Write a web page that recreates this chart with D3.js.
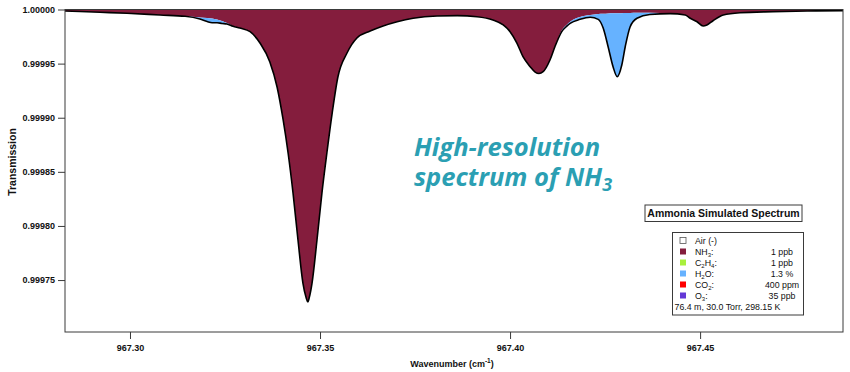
<!DOCTYPE html>
<html>
<head>
<meta charset="utf-8">
<script src="https://cdn.jsdelivr.net/npm/d3@7/dist/d3.min.js"></script>
<style>
  html, body { margin: 0; padding: 0; background: #ffffff; }
  svg { display: block; }
</style>
</head>
<body>
<svg id="chart" width="850" height="372"></svg>
<script>
// ---------------- DATA ----------------
// wavenumber grid (cm^-1)
const wavenumber = [967.2829, 967.2921, 967.2992, 967.3079, 967.3145, 967.3184, 967.3203, 967.3216, 967.3229, 967.3242,
  967.3255, 967.3271, 967.3289, 967.3316, 967.3342, 967.3368, 967.3387, 967.3403, 967.3416, 967.3429,
  967.3442, 967.3455, 967.3463, 967.3468, 967.3472, 967.3479, 967.3492, 967.3505, 967.3518, 967.3532,
  967.3547, 967.3571, 967.3597, 967.3632, 967.3666, 967.3703, 967.3745, 967.3808, 967.3861, 967.3913,
  967.3955, 967.3982, 967.4000, 967.4018, 967.4034, 967.4053, 967.4066, 967.4076, 967.4087, 967.4105,
  967.4118, 967.4136, 967.4150, 967.4158, 967.4184, 967.4211, 967.4232, 967.4245, 967.4258, 967.4271,
  967.4282, 967.4294, 967.4303, 967.4316, 967.4334, 967.4368, 967.4421, 967.4461, 967.4474, 967.4492,
  967.4508, 967.4518, 967.4534, 967.4561, 967.4605, 967.4692, 967.4782, 967.4876];

// NH3 transmission
const nh3Transmission = [0.9999986, 0.9999974, 0.9999965, 0.9999949, 0.9999937, 0.9999926, 0.9999921, 0.9999917, 0.9999908, 0.9999894,
  0.9999875, 0.9999848, 0.9999829, 0.9999795, 0.9999690, 0.9999515, 0.9999284, 0.9998979, 0.9998674, 0.9998304,
  0.9997870, 0.9997472, 0.9997343, 0.9997299, 0.9997343, 0.9997472, 0.9997870, 0.9998304, 0.9998674, 0.9999043,
  0.9999376, 0.9999598, 0.9999737, 0.9999801, 0.9999848, 0.9999887, 0.9999919, 0.9999940, 0.9999943, 0.9999933,
  0.9999903, 0.9999857, 0.9999795, 0.9999690, 0.9999564, 0.9999471, 0.9999422, 0.9999409, 0.9999425, 0.9999533,
  0.9999656, 0.9999806, 0.9999861, 0.9999887, 0.9999931, 0.9999949, 0.9999958, 0.9999960, 0.9999963, 0.9999965,
  0.9999965, 0.9999966, 0.9999967, 0.9999968, 0.9999970, 0.9999970, 0.9999965, 0.9999949, 0.9999919, 0.9999887,
  0.9999848, 0.9999857, 0.9999896, 0.9999949, 0.9999970, 0.9999980, 0.9999986, 0.9999989];

// H2O transmission
const h2oTransmission = [1.0000000, 1.0000000, 1.0000000, 1.0000000, 1.0000000, 0.9999986, 0.9999968, 0.9999961, 0.9999970, 0.9999977,
  0.9999991, 0.9999997, 1.0000000, 1.0000000, 1.0000000, 1.0000000, 1.0000000, 1.0000000, 1.0000000, 1.0000000,
  1.0000000, 1.0000000, 1.0000000, 1.0000000, 1.0000000, 1.0000000, 1.0000000, 1.0000000, 1.0000000, 1.0000000,
  1.0000000, 1.0000000, 1.0000000, 1.0000000, 1.0000000, 1.0000000, 1.0000000, 1.0000000, 1.0000000, 1.0000000,
  1.0000000, 1.0000000, 1.0000000, 1.0000000, 1.0000000, 1.0000000, 1.0000000, 1.0000000, 1.0000000, 1.0000000,
  1.0000000, 0.9999990, 0.9999987, 0.9999985, 0.9999978, 0.9999979, 0.9999951, 0.9999869, 0.9999693, 0.9999506,
  0.9999414, 0.9999521, 0.9999689, 0.9999873, 0.9999949, 0.9999984, 0.9999997, 1.0000000, 1.0000000, 1.0000000,
  1.0000000, 1.0000000, 1.0000000, 1.0000000, 1.0000000, 1.0000000, 1.0000000, 1.0000000];

const xTicks = [967.30, 967.35, 967.40, 967.45];
const yTicks = [1.00000, 0.99995, 0.99990, 0.99985, 0.99980, 0.99975];
const xDomain = [967.2829, 967.4876];
const yDomain = [0.999702, 1.0];

const legendTitle = "Ammonia Simulated Spectrum";
const legendNames = [["Air (-)"], ["NH", "3", ":"], ["C", "2", "H", "4", ":"], ["H", "2", "O:"], ["CO", "2", ":"], ["O", "3", ":"]];
const legendValues = ["", "1 ppb", "1 ppb", "1.3 %", "400 ppm", "35 ppb"];
const legendColors = ["#ffffff", "#841d3d", "#a9f03c", "#66b2ff", "#ff0000", "#6338d6"];
const legendFooter = "76.4 m, 30.0 Torr, 298.15 K";

// ---------------- DRAW ----------------
(function () {
const svg = d3.select("#chart");
const pL = 65, pR = 843, pT = 9.5, pB = 332;
const font = "'Liberation Sans', Arial, sans-serif";

const x = d3.scaleLinear().domain(xDomain).range([pL, pR]);
const y = d3.scaleLinear().domain(yDomain).range([pB, pT]);

const data = wavenumber.map((w, i) => ({
  w: w,
  nh3: nh3Transmission[i],
  total: nh3Transmission[i] * h2oTransmission[i]
}));

svg.append("defs").append("clipPath").attr("id", "clip")
  .append("rect").attr("x", pL).attr("y", pT).attr("width", pR - pL).attr("height", pB - pT);

const g = svg.append("g").attr("clip-path", "url(#clip)");

// NH3 area (from 1 down to NH3 transmission)
g.append("path").datum(data)
  .attr("fill", legendColors[1])
  .attr("d", d3.area().x(d => x(d.w)).y0(y(1.0)).y1(d => y(d.nh3)).curve(d3.curveMonotoneX));

// H2O area stacked under NH3
g.append("path").datum(data)
  .attr("fill", legendColors[3])
  .attr("d", d3.area().x(d => x(d.w)).y0(d => y(d.nh3)).y1(d => y(d.total)).curve(d3.curveMonotoneX));

// total transmission line
g.append("path").datum(data)
  .attr("fill", "none")
  .attr("stroke", "#000")
  .attr("stroke-width", 1.6)
  .attr("d", d3.line().x(d => x(d.w)).y(d => y(d.total)).curve(d3.curveMonotoneX));

// frame
svg.append("rect").attr("x", pL).attr("y", pT).attr("width", pR - pL).attr("height", pB - pT)
  .attr("fill", "none").attr("stroke", "#3a3a3a").attr("stroke-width", 1);

// axes
const yAxis = svg.append("g").attr("transform", `translate(${pL},0)`)
  .call(d3.axisLeft(y).tickValues(yTicks).tickFormat(d3.format(".5f")).tickSize(7).tickPadding(3));
const xAxis = svg.append("g").attr("transform", `translate(0,${pB})`)
  .call(d3.axisBottom(x).tickValues(xTicks).tickFormat(d3.format(".2f")).tickSize(7).tickPadding(6));
[yAxis, xAxis].forEach(a => {
  a.select(".domain").remove();
  a.selectAll(".tick line").attr("stroke", "#3a3a3a");
  a.selectAll(".tick text").attr("fill", "#111").attr("font-family", font).attr("font-weight", "bold").attr("font-size", "9px");
});

// axis titles
svg.append("text")
  .attr("transform", `translate(16,162) rotate(-90)`)
  .attr("text-anchor", "middle")
  .attr("font-family", font).attr("font-weight", "bold").attr("font-size", "10.5px").attr("fill", "#111")
  .text("Transmission");

const xt = svg.append("text")
  .attr("x", 452).attr("y", 367)
  .attr("text-anchor", "middle")
  .attr("font-family", font).attr("font-weight", "bold").attr("font-size", "9px").attr("fill", "#111");
xt.append("tspan").text("Wavenumber (cm");
xt.append("tspan").attr("dy", -4).attr("font-size", "6.5px").text("-1");
xt.append("tspan").attr("dy", 4).text(")");

// annotation
const ann = svg.append("text")
  .attr("font-family", "'Open Sans', sans-serif").attr("font-style", "italic").attr("font-weight", "bold")
  .attr("font-size", "25.5px").attr("fill", "#2b9fb3");
ann.append("tspan").attr("x", 414).attr("y", 156).text("High-resolution");
ann.append("tspan").attr("x", 414).attr("y", 186).text("spectrum of NH");
ann.append("tspan").attr("dy", 5).attr("font-size", "18px").text("3");

// legend title box
const lt = svg.append("g");
lt.append("rect").attr("x", 645).attr("y", 205).attr("width", 157).attr("height", 16.5)
  .attr("fill", "#fff").attr("stroke", "#3a3a3a").attr("stroke-width", 1);
lt.append("text").attr("x", 723.5).attr("y", 217)
  .attr("text-anchor", "middle")
  .attr("font-family", font).attr("font-weight", "bold").attr("font-size", "10.5px").attr("fill", "#111")
  .text(legendTitle);

// legend box
const lg = svg.append("g");
lg.append("rect").attr("x", 672.5).attr("y", 232.5).attr("width", 131).attr("height", 82.5)
  .attr("fill", "#fff").attr("stroke", "#3a3a3a").attr("stroke-width", 1);
const rowY = d3.scaleLinear().domain([0, 6]).range([240.5, 306.5]);
legendNames.forEach((parts, i) => {
  const cy = rowY(i);
  lg.append("rect").attr("x", 680).attr("y", cy - 3).attr("width", 6).attr("height", 6)
    .attr("fill", legendColors[i])
    .attr("stroke", i === 0 ? "#555" : "none").attr("stroke-width", 0.8);
  const t = lg.append("text").attr("x", 695).attr("y", cy + 3)
    .attr("font-family", font).attr("font-size", "8.8px").attr("fill", "#111");
  parts.forEach((p, j) => {
    const isSub = parts.length > 1 && j % 2 === 1;
    const tp = t.append("tspan").text(p);
    if (isSub) tp.attr("font-size", "6px").attr("dy", 2);
    else if (j > 0) tp.attr("dy", -2);
  });
  if (legendValues[i]) {
    lg.append("text").attr("x", 782).attr("y", cy + 3)
      .attr("text-anchor", "middle")
      .attr("font-family", font).attr("font-size", "8.8px").attr("fill", "#111")
      .text(legendValues[i]);
  }
});
lg.append("text").attr("x", 674.5).attr("y", rowY(6) + 3)
  .attr("font-family", font).attr("font-size", "8.8px").attr("fill", "#111")
  .text(legendFooter);
})();
</script>
</body>
</html>
